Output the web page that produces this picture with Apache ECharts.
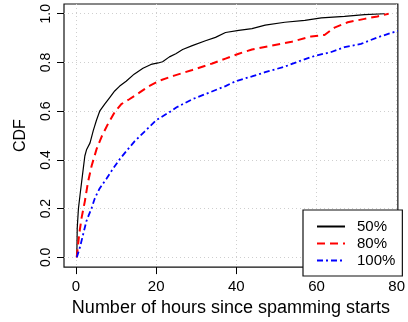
<!DOCTYPE html>
<html>
<head>
<meta charset="utf-8">
<script src="https://cdn.jsdelivr.net/npm/echarts@6/dist/echarts.min.js"></script>
<style>
html,body{margin:0;padding:0;background:#fff;}
#chart{width:408px;height:322px;}
</style>
</head>
<body>
<div id="chart"></div>
<script>
// ---- data ----
const xTicks = [0, 20, 40, 60, 80];
const yTicks = [0, 0.2, 0.4, 0.6, 0.8, 1.0];
const seriesNames = ['50%', '80%', '100%'];

const hours50 = [0.2, 0.3, 0.6, 1.0, 1.4, 1.8, 2.2, 2.65, 3.5, 4.3, 5.1, 5.9, 7.2, 8.4, 9.65, 10.9, 12.5, 14.5, 16.7, 18.7, 20.5, 21.6, 23.3, 24.9, 26.6, 29, 32.3, 34.8, 37.3, 40.6, 43.9, 47.2, 52.1, 57.1, 61.2, 67, 72, 77];
const cdf50 = [0, 0.12, 0.2, 0.256, 0.31, 0.363, 0.416, 0.443, 0.47, 0.52, 0.563, 0.6, 0.63, 0.656, 0.683, 0.703, 0.723, 0.752, 0.776, 0.792, 0.798, 0.803, 0.823, 0.836, 0.853, 0.869, 0.889, 0.903, 0.923, 0.932, 0.939, 0.953, 0.965, 0.973, 0.983, 0.989, 0.996, 1.0];

const hours80 = [0.17, 0.8, 1.4, 2.2, 3.0, 3.9, 5.1, 6.4, 8, 9.65, 11.3, 13.3, 15.8, 18.2, 20.8, 24.5, 29, 34, 37.3, 40.6, 43.9, 48.8, 53.8, 58.7, 62, 64.5, 67.8, 72, 75.2, 78];
const cdf80 = [0, 0.096, 0.163, 0.23, 0.31, 0.376, 0.443, 0.496, 0.549, 0.596, 0.629, 0.649, 0.676, 0.703, 0.725, 0.746, 0.769, 0.796, 0.816, 0.836, 0.853, 0.869, 0.885, 0.907, 0.913, 0.943, 0.965, 0.979, 0.989, 1.0];

const hours100 = [0.2, 1, 1.8, 2.6, 3.9, 4.7, 5.9, 7.6, 9.2, 10.9, 12.9, 14.6, 17.1, 20, 23.3, 25.1, 29, 33.2, 37.3, 39.8, 43.9, 47.2, 52.1, 56.3, 59.6, 63.7, 67, 71.1, 75.2, 80.3];
const cdf100 = [0, 0.043, 0.096, 0.149, 0.203, 0.243, 0.283, 0.323, 0.363, 0.403, 0.443, 0.476, 0.516, 0.563, 0.596, 0.616, 0.649, 0.676, 0.703, 0.723, 0.743, 0.76, 0.783, 0.809, 0.827, 0.843, 0.863, 0.876, 0.903, 0.93];

function pairs(xs, ys) { return xs.map((x, i) => [x, ys[i]]); }

const FONT = 'Liberation Sans, Arial, Helvetica, sans-serif';
const chart = echarts.init(document.getElementById('chart'), null, {renderer: 'canvas'});

chart.setOption({
  animation: false,
  backgroundColor: '#ffffff',
  grid: {
    left: 64, right: 7, top: 4, bottom: 48,
    show: true, borderColor: '#111', borderWidth: 1.2, backgroundColor: 'transparent'
  },
  xAxis: {
    type: 'value',
    min: -3, max: 80.3,
    name: 'Number of hours since spamming starts',
    nameLocation: 'middle',
    nameGap: 29,
    nameTextStyle: {fontFamily: FONT, fontSize: 18, color: '#000'},
    axisLine: {show: false, onZero: false},
    axisTick: {show: true, inside: false, length: 7, customValues: xTicks, lineStyle: {color: '#000', width: 1}},
    axisLabel: {customValues: xTicks, fontFamily: FONT, fontSize: 15, color: '#000', margin: 12},
    splitLine: {show: true, lineStyle: {color: '#cfcfcf', type: [1, 3], width: 1}}
  },
  yAxis: {
    type: 'value',
    min: -0.04, max: 1.04,
    name: 'CDF',
    nameLocation: 'middle',
    nameGap: 35,
    nameRotate: 90,
    nameTextStyle: {fontFamily: FONT, fontSize: 16, color: '#000'},
    axisLine: {show: false, onZero: false},
    axisTick: {show: true, inside: false, length: 7, customValues: yTicks, lineStyle: {color: '#000', width: 1}},
    axisLabel: {customValues: yTicks, rotate: 90, fontFamily: FONT, fontSize: 14, color: '#000', margin: 11,
      formatter: v => v.toFixed(1)},
    splitLine: {show: true, lineStyle: {color: '#cfcfcf', type: [1, 3], width: 1}}
  },
  legend: {
    orient: 'vertical',
    left: 303, top: 210,
    padding: [9, 7, 8, 13],
    itemWidth: 28, itemHeight: 14, itemGap: 2,
    backgroundColor: '#fff',
    borderColor: '#111', borderWidth: 1.2,
    itemStyle: {opacity: 0},
    textStyle: {fontFamily: FONT, fontSize: 15, color: '#000', padding: [0, 0, 0, 7]},
    data: seriesNames
  },
  series: [
    {name: seriesNames[0], type: 'line', data: pairs(hours50, cdf50), showSymbol: false, symbol: 'none',
      lineStyle: {color: '#000', width: 1.2, type: 'solid'}, itemStyle: {color: '#000'}},
    {name: seriesNames[1], type: 'line', data: pairs(hours80, cdf80), showSymbol: false, symbol: 'none',
      lineStyle: {color: '#ff0000', width: 2, type: [8, 5]}, itemStyle: {color: '#ff0000'}},
    {name: seriesNames[2], type: 'line', data: pairs(hours100, cdf100), showSymbol: false, symbol: 'none',
      lineStyle: {color: '#0000ff', width: 1.8, type: [6, 3, 2, 3]}, itemStyle: {color: '#0000ff'}}
  ]
});
</script>
</body>
</html>
